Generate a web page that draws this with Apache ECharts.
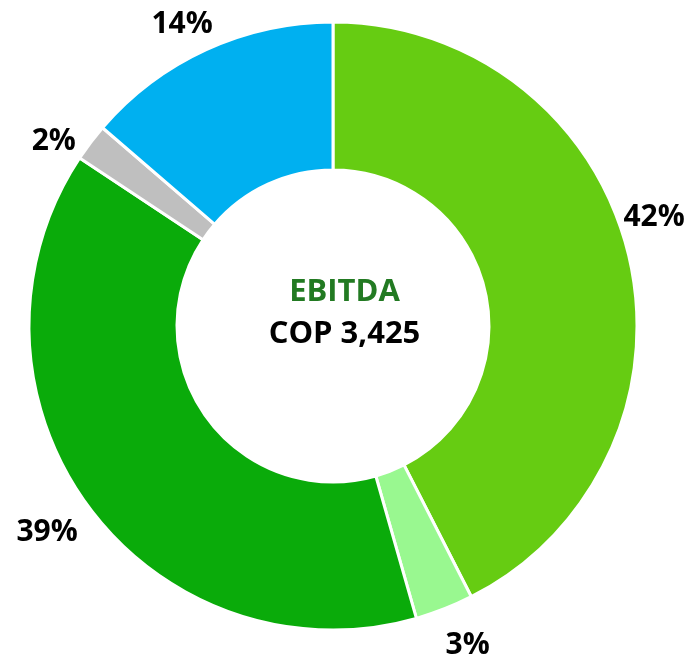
<!DOCTYPE html>
<html>
<head>
<meta charset="utf-8">
<script src="https://cdn.jsdelivr.net/npm/echarts@6/dist/echarts.min.js"></script>
<style>
  html, body { margin: 0; padding: 0; background: #fff; }
  #chart { width: 689px; height: 662px; }
</style>
</head>
<body>
<div id="chart"></div>
<script>
// segment values (COP), clockwise from 12 o'clock
const names = ["Segment A", "Segment B", "Segment C", "Segment D", "Segment E"];
const values = [1455, 106, 1327, 68, 469];
const colors = ["#66CC12", "#99F890", "#0AAB0A", "#BFBFBF", "#00B0F0"];
const centerTitle = "EBITDA";
const centerValue = "COP 3,425";

// small manual nudges of the percentage labels (as placed in the original)
const labelNudge = [[-16, -36], [-6, 31], [0, 23], [-5, 3], [14, -20]];

const chart = echarts.init(document.getElementById("chart"));

chart.setOption({
  animation: false,
  graphic: [
    {
      type: "text", left: "center", top: 277,
      style: { text: centerTitle, font: "bold 31px 'Open Sans'", fill: "#227A22", textAlign: "center" }
    },
    {
      type: "text", left: "center", top: 319,
      style: { text: centerValue, font: "bold 31px 'Open Sans'", fill: "#000", textAlign: "center" }
    }
  ],
  series: [{
    type: "pie",
    center: [333, 326],
    radius: [156, 304],
    startAngle: 90,
    clockwise: true,
    avoidLabelOverlap: false,
    itemStyle: { borderColor: "#fff", borderWidth: 3 },
    label: {
      show: true,
      position: "outside",
      formatter: p => Math.round(p.percent) + "%",
      fontFamily: "Open Sans",
      fontWeight: "bold",
      fontSize: 30,
      color: "#000"
    },
    labelLine: { show: false, length: 6, length2: 0 },
    labelLayout: p => ({ dx: labelNudge[p.dataIndex][0], dy: labelNudge[p.dataIndex][1] }),
    data: values.map((v, i) => ({ name: names[i], value: v, itemStyle: { color: colors[i] } }))
  }]
});
</script>
</body>
</html>
